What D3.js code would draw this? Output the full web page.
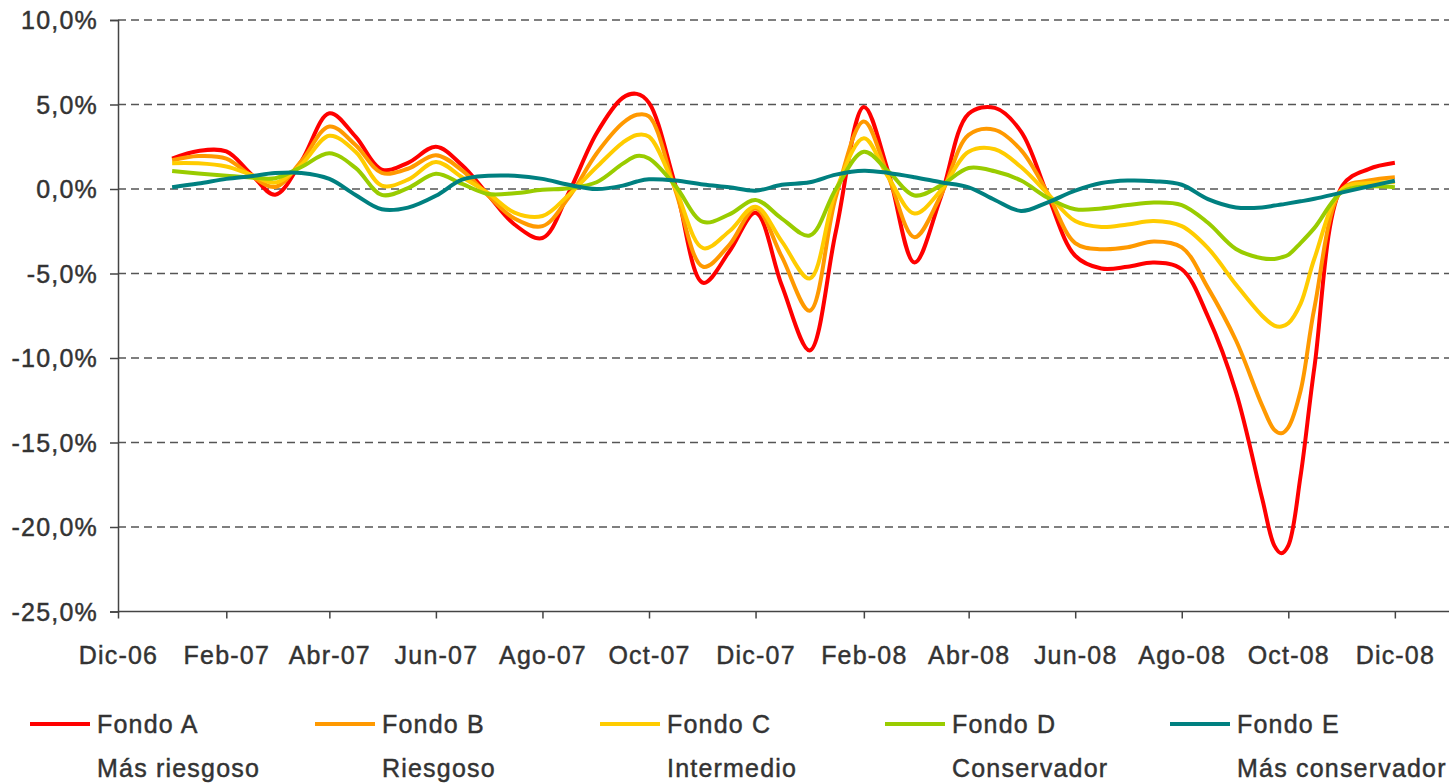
<!DOCTYPE html>
<html>
<head>
<meta charset="utf-8">
<script src="https://cdn.jsdelivr.net/npm/d3@7.9.0/dist/d3.min.js"></script>
<style>
  body { margin: 0; background: #fff; }
  svg text { font-family: "Liberation Sans", Arial, sans-serif; fill: #333; stroke: #333; stroke-width: 0.45px; font-size: 25px; letter-spacing: 1.2px; }
</style>
</head>
<body>
<svg id="chart" width="1449" height="784"></svg>
<script>
// fechas de cada observación (aprox. quincenal, más densa en los extremos)
const fechas = [
  "2007-01-01","2007-01-16","2007-02-01","2007-02-15","2007-03-01","2007-03-16",
  "2007-04-01","2007-04-16","2007-05-01","2007-05-16","2007-06-01","2007-06-16",
  "2007-07-01","2007-07-16","2007-08-01","2007-08-16","2007-09-01","2007-09-16",
  "2007-09-24","2007-10-01","2007-10-16","2007-11-01","2007-11-16","2007-12-01","2007-12-16",
  "2008-01-01","2008-01-16","2008-02-01","2008-02-15","2008-03-01","2008-03-16",
  "2008-04-01","2008-04-16","2008-05-01","2008-05-16","2008-06-01","2008-06-16",
  "2008-07-01","2008-07-16","2008-08-01","2008-08-16","2008-09-01","2008-09-16",
  "2008-09-23","2008-09-27","2008-10-01","2008-10-08","2008-10-16","2008-11-01","2008-11-16","2008-12-01"
];

const fondoA = [1.8, 2.25, 2.22, 0.9, -0.34, 1.65, 4.48, 3.1, 1.15, 1.55, 2.5, 1.4,
  -0.36, -2.1, -2.9, -0.23, 3.3, 5.4, 5.63, 5.1, 0.25, -5.55, -3.7, -1.4, -5.7,
  -9.55, -2.5, 4.85, 1.0, -4.35, -0.5, 4.45, 4.8, 3.4, -0.3, -3.95, -4.7,
  -4.6, -4.35, -4.75, -7.55, -12.0, -18.3, -21.1, -21.55, -21.1, -17.0, -10.5, 0.2, 1.18, 1.55];

const fondoB = [1.7, 1.95, 1.8, 0.8, 0.12, 1.65, 3.7, 2.6, 0.95, 1.2, 2.0, 1.1,
  -0.4, -1.75, -2.2, -0.5, 2.1, 3.9, 4.39, 4.3, -0.05, -4.6, -3.3, -1.15, -4.0,
  -7.2, -0.45, 4.0, 0.75, -2.85, -0.4, 3.2, 3.5, 2.3, -0.2, -3.2, -3.56,
  -3.45, -3.1, -3.45, -5.85, -8.95, -12.8, -14.25, -14.45, -14.1, -11.95, -7.0, 0.0, 0.5, 0.7];

const fondoC = [1.53, 1.52, 1.33, 0.85, 0.38, 1.45, 3.15, 2.2, 0.2, 0.55, 1.6, 0.7,
  -0.25, -1.4, -1.6, -0.35, 1.3, 2.75, 3.2, 3.1, 0.05, -3.5, -2.5, -1.05, -3.1,
  -5.3, -0.1, 3.0, 0.7, -1.45, -0.1, 2.2, 2.35, 1.3, -0.25, -1.9, -2.25,
  -2.1, -1.9, -2.2, -3.5, -5.65, -7.5, -8.08, -8.14, -7.95, -6.8, -4.1, 0.0, 0.35, 0.4];

const fondoD = [1.06, 0.92, 0.79, 0.68, 0.64, 1.3, 2.12, 1.25, -0.35, 0.05, 0.9, 0.3,
  -0.3, -0.25, -0.05, 0.05, 0.4, 1.5, 1.95, 1.8, 0.2, -1.95, -1.5, -0.65, -1.75,
  -2.75, 0.0, 2.2, 1.05, -0.38, 0.2, 1.24, 1.05, 0.5, -0.5, -1.2, -1.15,
  -0.95, -0.8, -0.95, -2.0, -3.55, -4.1, -4.14, -4.05, -3.9, -3.2, -2.3, -0.15, 0.15, 0.1];

const fondoE = [0.1, 0.32, 0.6, 0.76, 0.94, 0.95, 0.6, -0.35, -1.2, -1.1, -0.4, 0.55,
  0.78, 0.78, 0.6, 0.25, 0.0, 0.2, 0.44, 0.57, 0.5, 0.27, 0.1, -0.1, 0.25,
  0.4, 0.85, 1.08, 0.95, 0.7, 0.4, 0.1, -0.65, -1.3, -0.8, -0.1, 0.35,
  0.5, 0.46, 0.25, -0.6, -1.09, -1.09, -0.98, -0.92, -0.85, -0.73, -0.58, -0.2, 0.15, 0.49];

const nombres = ["Fondo A", "Fondo B", "Fondo C", "Fondo D", "Fondo E"];
const descripciones = ["Más riesgoso", "Riesgoso", "Intermedio", "Conservador", "Más conservador"];
const colores = ["#ff0000", "#ff9900", "#ffcc00", "#99cc00", "#008080"];

const tickFechas = ["2006-12-01","2007-02-01","2007-04-01","2007-06-01","2007-08-01","2007-10-01",
  "2007-12-01","2008-02-01","2008-04-01","2008-06-01","2008-08-01","2008-10-01","2008-12-01"];
const tickEtiquetas = ["Dic-06","Feb-07","Abr-07","Jun-07","Ago-07","Oct-07",
  "Dic-07","Feb-08","Abr-08","Jun-08","Ago-08","Oct-08","Dic-08"];
const yTicks = [10, 5, 0, -5, -10, -15, -20, -25];

const parse = d3.utcParse("%Y-%m-%d");
const fondos = [fondoA, fondoB, fondoC, fondoD, fondoE];

const svg = d3.select("#chart");

const x = d3.scaleUtc()
  .domain([parse("2006-12-01"), parse("2009-01-01")])
  .range([118, 1449]);

const y = d3.scaleLinear()
  .domain([-25, 10])
  .range([611.5, 20]);

const es = d3.formatLocale({decimal: ",", thousands: ".", grouping: [3], currency: ["", "€"], minus: "-"});
const fmt = es.format(".1f");

// grid lines
svg.append("g")
  .selectAll("line")
  .data(yTicks.filter(d => d !== -25))
  .join("line")
  .attr("x1", 118)
  .attr("x2", 1449)
  .attr("y1", d => y(d))
  .attr("y2", d => y(d))
  .attr("stroke", "#555")
  .attr("stroke-width", 1.5)
  .attr("stroke-dasharray", "8,5");

// y axis
const yAxis = svg.append("g")
  .attr("transform", "translate(118,0)")
  .call(d3.axisLeft(y).tickValues(yTicks).tickSize(8).tickPadding(12).tickFormat(d => fmt(d) + "%"));
yAxis.select(".domain").attr("stroke", "#444").attr("stroke-width", 1.5);
yAxis.selectAll(".tick line").attr("stroke", "#444").attr("stroke-width", 1.5);
yAxis.selectAll("text").attr("font-size", null).attr("font-family", null).attr("dy", "0.35em");

// x axis
const xAxis = svg.append("g")
  .attr("transform", `translate(0,${y(-25)})`)
  .call(d3.axisBottom(x)
    .tickValues(tickFechas.map(parse))
    .tickSize(7)
    .tickPadding(28)
    .tickFormat((d, i) => tickEtiquetas[i]));
xAxis.select(".domain").attr("stroke", "#444").attr("stroke-width", 1.5).attr("d", `M118,0H1449`);
xAxis.selectAll(".tick line").attr("stroke", "#444").attr("stroke-width", 1.5);
xAxis.selectAll("text").attr("font-size", null).attr("font-family", null);

// lines
const line = d3.line()
  .x((d, i) => x(parse(fechas[i])))
  .y(d => y(d))
  .curve(d3.curveCatmullRom.alpha(0.5));

svg.append("g")
  .selectAll("path")
  .data(fondos)
  .join("path")
  .attr("d", d => line(d))
  .attr("fill", "none")
  .attr("stroke", (d, i) => colores[i])
  .attr("stroke-width", 4)
  .attr("stroke-linejoin", "round");

// legend
const legend = svg.append("g")
  .selectAll("g")
  .data(nombres)
  .join("g")
  .attr("transform", (d, i) => `translate(${30 + i * 285},0)`);

legend.append("line")
  .attr("x1", 0).attr("x2", 60)
  .attr("y1", 724).attr("y2", 724)
  .attr("stroke", (d, i) => colores[i])
  .attr("stroke-width", 4);

legend.append("text")
  .attr("x", 67).attr("y", 733)
  .text(d => d);

legend.append("text")
  .attr("x", 67).attr("y", 777)
  .text((d, i) => descripciones[i]);
</script>
</body>
</html>
